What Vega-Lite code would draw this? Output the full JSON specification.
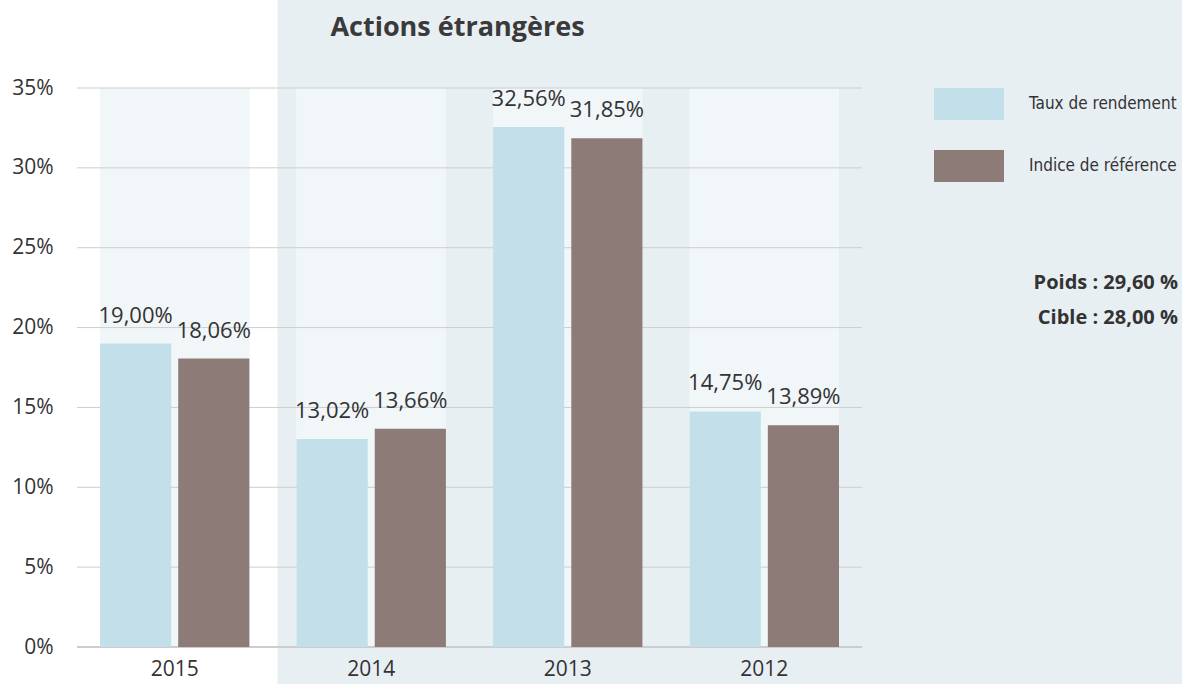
{
  "$schema": "https://vega.github.io/schema/vega-lite/v6.json",
  "width": 785,
  "height": 559,
  "autosize": {"type": "none"},
  "padding": {"left": 77, "top": 88, "right": 320, "bottom": 37},
  "background": "#ffffff",
  "title": {
    "text": "Actions étrangères",
    "font": "Open Sans",
    "fontSize": 27,
    "fontWeight": "bold",
    "color": "#3a3a3a",
    "anchor": "middle",
    "frame": "group",
    "dx": -12,
    "offset": -42
  },
  "config": {
    "view": {"stroke": null},
    "locale": {"number": {"decimal": ",", "thousands": " ", "grouping": [3], "currency": ["", " €"], "percent": "%"}}
  },
  "datasets": {
    "main": [
      {"year": "2015", "series": "Taux de rendement", "value": 0.19},
      {"year": "2015", "series": "Indice de référence", "value": 0.1806},
      {"year": "2014", "series": "Taux de rendement", "value": 0.1302},
      {"year": "2014", "series": "Indice de référence", "value": 0.1366},
      {"year": "2013", "series": "Taux de rendement", "value": 0.3256},
      {"year": "2013", "series": "Indice de référence", "value": 0.3185},
      {"year": "2012", "series": "Taux de rendement", "value": 0.1475},
      {"year": "2012", "series": "Indice de référence", "value": 0.1389}
    ],
    "grid": [
      {"v": 0}, {"v": 0.05}, {"v": 0.1}, {"v": 0.15}, {"v": 0.2}, {"v": 0.25}, {"v": 0.3}, {"v": 0.35}
    ]
  },
  "data": {"name": "main"},
  "encoding": {
    "x": {
      "field": "year",
      "type": "nominal",
      "scale": {"domain": ["2015", "2014", "2013", "2012"], "paddingInner": 0.24, "paddingOuter": 0.117},
      "axis": {
        "title": null, "labelAngle": 0, "domain": false, "ticks": false, "labelPadding": 11,
        "labelFont": "Open Sans", "labelFontSize": 21, "labelColor": "#333333", "zindex": 1
      }
    }
  },
  "layer": [
    {
      "data": {"values": [{}]},
      "mark": {"type": "rect", "color": "#e8eff3", "xOffset": -19, "x2Offset": 344, "yOffset": -88, "y2Offset": 37},
      "encoding": {
        "x": {"datum": "2014", "type": "nominal", "bandPosition": 0},
        "x2": {"datum": "2012", "bandPosition": 1},
        "y": {"datum": 0.35, "type": "quantitative"},
        "y2": {"datum": 0}
      }
    },
    {
      "mark": {"type": "bar", "color": "#f1f6f9"},
      "encoding": {
        "y": {"datum": 0.35, "type": "quantitative"},
        "y2": {"datum": 0}
      }
    },
    {
      "data": {"name": "grid"},
      "mark": {"type": "rule", "color": "#cdcdcd"},
      "encoding": {
        "x": null,
        "y": {"field": "v", "type": "quantitative"},
        "strokeWidth": {"condition": {"test": "datum.v === 0", "value": 2}, "value": 1}
      }
    },
    {
      "mark": {"type": "bar"},
      "encoding": {
        "xOffset": {
          "field": "series", "type": "nominal",
          "scale": {"domain": ["Taux de rendement", "Indice de référence"], "paddingInner": 0.09, "paddingOuter": 0}
        },
        "y": {
          "field": "value", "type": "quantitative",
          "scale": {"domain": [0, 0.35], "nice": false},
          "axis": {
            "title": null, "values": [0, 0.05, 0.1, 0.15, 0.2, 0.25, 0.3, 0.35], "format": ".0%",
            "grid": false, "domain": false, "ticks": false, "labelPadding": 24,
            "labelFont": "Open Sans", "labelFontSize": 21, "labelColor": "#333333", "zindex": 1
          }
        },
        "color": {
          "field": "series", "type": "nominal",
          "scale": {"domain": ["Taux de rendement", "Indice de référence"], "range": ["#c3dfe9", "#8c7b76"]},
          "legend": {
            "title": null, "orient": "none", "legendX": 857, "legendY": -19, "padding": 0,
            "symbolType": "M-1,-0.457L1,-0.457L1,0.457L-1,0.457Z", "symbolSize": 4900,
            "symbolStrokeWidth": 0, "symbolOpacity": 1, "rowPadding": 11,
            "labelOffset": 25, "labelFont": "DejaVu Sans Condensed, Roboto", "labelFontSize": 17, "labelColor": "#333333",
            "labelLimit": 300
          }
        }
      }
    },
    {
      "mark": {"type": "text", "font": "Open Sans", "fontSize": 22, "color": "#333333", "baseline": "middle", "dy": -28},
      "encoding": {
        "xOffset": {"field": "series", "type": "nominal"},
        "y": {"field": "value", "type": "quantitative"},
        "text": {"field": "value", "type": "quantitative", "format": ".2%"}
      }
    },
    {
      "data": {"values": [{}]},
      "mark": {
        "type": "text", "font": "Open Sans", "fontSize": 20, "fontWeight": "bold", "color": "#333333",
        "align": "right", "baseline": "alphabetic", "dx": 339, "lineHeight": 35,
        "text": ["Poids : 29,60 %", "Cible : 28,00 %"]
      },
      "encoding": {
        "x": {"datum": "2012", "type": "nominal", "bandPosition": 1},
        "y": {"datum": 0.2241, "type": "quantitative"}
      }
    }
  ]
}
